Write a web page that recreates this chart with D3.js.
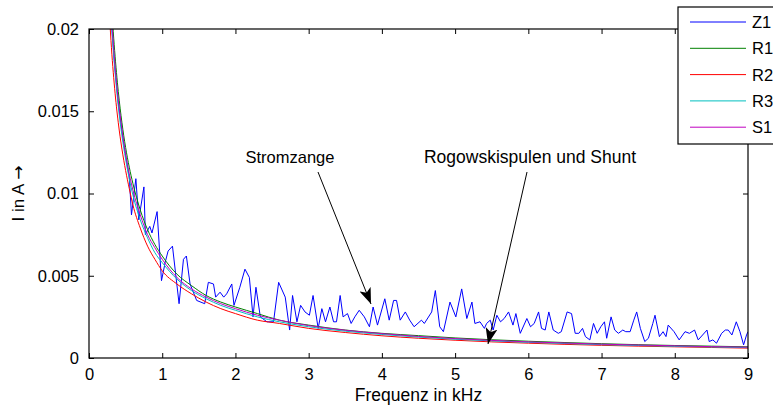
<!DOCTYPE html>
<html><head><meta charset="utf-8">
<script src="https://cdn.jsdelivr.net/npm/d3@7"></script>
<style>body{margin:0;background:#fff}svg{display:block;font-family:"Liberation Sans",Arial,sans-serif}</style>
</head><body>
<svg id="chart" width="773" height="407"></svg>
<script>
// smooth series frequency grid (kHz)
const freqSmooth = [0.25,0.3,0.35,0.4,0.45,0.5,0.55,0.6,0.7,0.8,0.9,1.0,1.2,1.4,1.6,1.8,2.0,2.3,2.6,3.0,3.5,4.0,4.5,5.0,5.5,6.0,6.5,7.0,7.5,8.0,8.5,9.0];
const r1 = [0.0264,0.0220,0.0187,0.0162,0.0143,0.0128,0.0116,0.0106,0.0090,0.0078,0.0069,0.0062,0.0051,0.0044,0.0038,0.0034,0.0031,0.0027,0.0023,0.0020,0.0017,0.0015,0.00136,0.00122,0.00111,0.00102,0.00094,0.00087,0.00081,0.00076,0.00072,0.00068];
const r2 = [0.0235,0.0193,0.0164,0.0143,0.0127,0.0114,0.0103,0.0093,0.0079,0.0068,0.0060,0.0053,0.0045,0.0039,0.0034,0.0030,0.0027,0.0023,0.0021,0.0018,0.00155,0.00135,0.0012,0.00108,0.00098,0.0009,0.00083,0.00077,0.00072,0.00068,0.00064,0.0006];
const r3 = [0.0250,0.0208,0.0177,0.0153,0.0135,0.0121,0.0109,0.0099,0.0084,0.0073,0.0064,0.0058,0.0048,0.0041,0.0036,0.0032,0.0029,0.0025,0.0022,0.0019,0.00163,0.00143,0.00127,0.00114,0.00104,0.00095,0.00088,0.00081,0.00076,0.00071,0.00067,0.00063];
const s1 = [0.0256,0.0213,0.0181,0.0157,0.0139,0.0124,0.0112,0.0102,0.0087,0.0075,0.0067,0.0060,0.0049,0.0042,0.0037,0.0033,0.0030,0.0026,0.0023,0.00197,0.00169,0.00148,0.00131,0.00118,0.00107,0.00098,0.00091,0.00084,0.00079,0.00074,0.00069,0.00066];
// Z1 (Stromzange) – noisy measurement
const freqZ1 = [0.25,0.30,0.35,0.40,0.45,0.50,0.55,0.58,0.64,0.68,0.75,0.77,0.83,0.86,0.93,0.99,1.04,1.08,1.14,1.23,1.29,1.33,1.38,1.47,1.58,1.63,1.70,1.73,1.79,1.84,1.88,1.95,1.98,2.06,2.13,2.19,2.24,2.28,2.34,2.43,2.52,2.59,2.68,2.74,2.78,2.84,2.89,2.95,3.01,3.06,3.13,3.18,3.23,3.29,3.34,3.38,3.43,3.47,3.53,3.58,3.63,3.69,3.76,3.83,3.88,3.94,4.04,4.10,4.16,4.20,4.25,4.32,4.38,4.44,4.54,4.58,4.68,4.73,4.79,4.84,4.93,5.01,5.09,5.16,5.23,5.27,5.34,5.40,5.43,5.48,5.52,5.57,5.62,5.67,5.73,5.79,5.83,5.89,5.98,6.03,6.08,6.14,6.18,6.23,6.28,6.34,6.41,6.45,6.53,6.59,6.64,6.69,6.74,6.78,6.84,6.89,6.94,6.99,7.04,7.07,7.13,7.18,7.23,7.29,7.33,7.39,7.44,7.48,7.53,7.59,7.64,7.70,7.73,7.79,7.84,7.88,7.91,7.99,8.06,8.14,8.20,8.27,8.32,8.44,8.47,8.52,8.57,8.64,8.69,8.73,8.78,8.84,8.89,8.94,8.98,9.0];
const z1 = [0.0250,0.0208,0.0178,0.0155,0.0138,0.0123,0.0110,0.0087,0.0109,0.0084,0.0104,0.0075,0.0080,0.0076,0.0089,0.0047,0.0058,0.0065,0.0068,0.0033,0.0060,0.0062,0.0045,0.0035,0.0033,0.0046,0.0045,0.0037,0.0040,0.0037,0.0039,0.0045,0.0032,0.0043,0.0054,0.0049,0.0025,0.0043,0.0025,0.0022,0.0022,0.0046,0.0037,0.0017,0.0038,0.0022,0.0032,0.0028,0.0026,0.0038,0.0018,0.0030,0.0022,0.0031,0.0022,0.0022,0.0038,0.0025,0.0027,0.0021,0.0025,0.0029,0.0025,0.0019,0.0031,0.0020,0.0036,0.0023,0.0035,0.0035,0.0023,0.0028,0.0023,0.0019,0.0023,0.0021,0.0028,0.0041,0.0019,0.0016,0.0034,0.0025,0.0042,0.0024,0.0034,0.0021,0.0022,0.0018,0.0021,0.0023,0.0017,0.0026,0.0022,0.0024,0.0028,0.0020,0.0027,0.0015,0.0024,0.0019,0.0021,0.0028,0.0018,0.0017,0.0028,0.0017,0.0015,0.0016,0.0028,0.0027,0.0015,0.0015,0.0018,0.0013,0.0011,0.0021,0.0015,0.0019,0.0022,0.0012,0.0025,0.0017,0.0015,0.0017,0.0016,0.0016,0.0023,0.0028,0.0018,0.0010,0.0012,0.0021,0.0026,0.0013,0.0016,0.0013,0.0020,0.0016,0.0011,0.0016,0.0015,0.0017,0.0011,0.0017,0.0010,0.0011,0.0009,0.0015,0.0017,0.0017,0.0014,0.0022,0.0016,0.0008,0.0014,0.0016];
const seriesNames = ["Z1","R1","R2","R3","S1"];
const seriesColors = ["#0000ff","#008000","#ff0000","#00bfbf","#bf00bf"];
const xTicks = [0,1,2,3,4,5,6,7,8,9];
const yTicks = [0,0.005,0.01,0.015,0.02];
const yTickLabels = ["0","0.005","0.01","0.015","0.02"];

const svg = d3.select("#chart");
const L=89, R=748, T=29, B=358;
const x = d3.scaleLinear().domain([0,9]).range([L,R]);
const y = d3.scaleLinear().domain([0,0.02]).range([B,T]);

svg.append("defs").append("clipPath").attr("id","clip")
  .append("rect").attr("x",L).attr("y",T).attr("width",R-L).attr("height",B-T);

const series = [
  {f:freqZ1, v:z1},
  {f:freqSmooth, v:r1},
  {f:freqSmooth, v:r2},
  {f:freqSmooth, v:r3},
  {f:freqSmooth, v:s1}
];
const g = svg.append("g").attr("clip-path","url(#clip)");
series.forEach((s,i)=>{
  const line = d3.line().x(d=>x(d[0])).y(d=>y(d[1]));
  if(i>0) line.curve(d3.curveMonotoneX);
  g.append("path").datum(s.f.map((f,j)=>[f,s.v[j]]))
    .attr("d",line).attr("fill","none").attr("stroke",seriesColors[i]).attr("stroke-width",1);
});

// axes with inward ticks, box
const fontSize = 16.5;
const axB = svg.append("g").attr("transform",`translate(0,${B})`)
  .call(d3.axisBottom(x).tickValues(xTicks).tickSizeInner(-5).tickSizeOuter(0).tickPadding(10).tickFormat(d3.format("d")));
const axT = svg.append("g").attr("transform",`translate(0,${T})`)
  .call(d3.axisTop(x).tickValues(xTicks).tickSizeInner(-5).tickSizeOuter(0).tickFormat(""));
const axL = svg.append("g").attr("transform",`translate(${L},0)`)
  .call(d3.axisLeft(y).tickValues(yTicks).tickSizeInner(-5).tickSizeOuter(0).tickPadding(10).tickFormat((d,i)=>yTickLabels[i]));
const axR = svg.append("g").attr("transform",`translate(${R},0)`)
  .call(d3.axisRight(y).tickValues(yTicks).tickSizeInner(-5).tickSizeOuter(0).tickFormat(""));
[axB,axT,axL,axR].forEach(a=>{
  a.selectAll(".domain").remove();
  a.selectAll("line").attr("stroke","#000");
  a.selectAll("text").attr("font-size",fontSize).attr("font-family","Liberation Sans, Arial, sans-serif").attr("fill","#000");
});
svg.append("rect").attr("x",L).attr("y",T).attr("width",R-L).attr("height",B-T)
  .attr("fill","none").attr("stroke","#000").attr("stroke-width",1.2);

// labels
svg.append("text").attr("x",(L+R)/2).attr("y",401).attr("text-anchor","middle")
  .attr("font-size",17.5).text("Frequenz in kHz");
const yl = svg.append("text").attr("transform",`translate(24,${(T+B)/2}) rotate(-90)`).attr("text-anchor","middle")
  .attr("font-size",17);
yl.append("tspan").text("I in A ");
yl.append("tspan").attr("font-family","DejaVu Sans").attr("font-size",17).text("\u2192");

// annotations
svg.append("defs").append("marker").attr("id","ah").attr("viewBox","0 0 16 12")
  .attr("refX",16).attr("refY",6).attr("markerWidth",16).attr("markerHeight",12)
  .attr("markerUnits","userSpaceOnUse").attr("orient","auto")
  .append("path").attr("d","M0,0 L16,6 L0,12 L4,6 Z").attr("fill","#000");
svg.append("text").attr("x",290).attr("y",163).attr("text-anchor","middle").attr("font-size",16.5).text("Stromzange");
svg.append("text").attr("x",530).attr("y",163).attr("text-anchor","middle").attr("font-size",17.5).text("Rogowskispulen und Shunt");
svg.append("line").attr("x1",318).attr("y1",172).attr("x2",371).attr("y2",304)
  .attr("stroke","#000").attr("stroke-width",1).attr("marker-end","url(#ah)");
svg.append("line").attr("x1",527).attr("y1",172).attr("x2",488).attr("y2",344)
  .attr("stroke","#000").attr("stroke-width",1).attr("marker-end","url(#ah)");

// legend
const lg = svg.append("g");
lg.append("rect").attr("x",678).attr("y",7).attr("width",120).attr("height",137)
  .attr("fill","#fff").attr("stroke","#000").attr("stroke-width",1.2);
seriesNames.forEach((n,i)=>{
  const yy = 22 + i*26.3;
  lg.append("line").attr("x1",690).attr("x2",746).attr("y1",yy).attr("y2",yy)
    .attr("stroke",seriesColors[i]).attr("stroke-width",1);
  lg.append("text").attr("x",752).attr("y",yy+6).attr("font-size",fontSize).text(n);
});
</script>
</body></html>
